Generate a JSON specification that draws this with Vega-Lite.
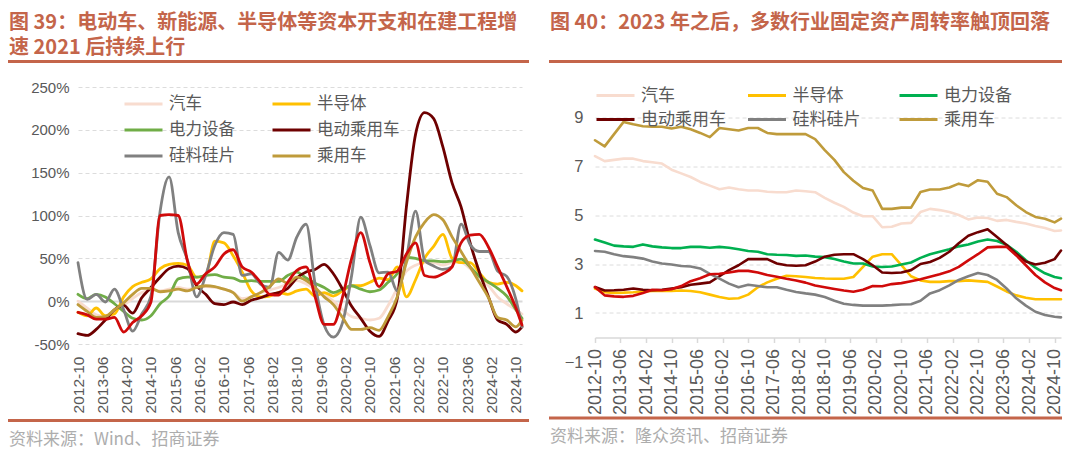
{
  "$schema": "https://vega.github.io/schema/vega-lite/v6.json",
  "background": "white",
  "padding": {"left": 8, "top": 11, "right": 0, "bottom": 0},
  "datasets": {
    "left": [
      {"d":"2012-10","汽车":0,"半导体":-13,"电力设备":8,"电动乘用车":-38,"硅料硅片":45,"乘用车":-4,"其他":-13},
      {"d":"2013-01","汽车":-8,"半导体":-17,"电力设备":3,"电动乘用车":-40,"硅料硅片":2,"乘用车":-12,"其他":-16},
      {"d":"2013-04","汽车":-16,"半导体":-8,"电力设备":8,"电动乘用车":-33,"硅料硅片":8,"乘用车":-19,"其他":-21},
      {"d":"2013-07","汽车":-18,"半导体":-17,"电力设备":5,"电动乘用车":-22,"硅料硅片":-1,"乘用车":-18,"其他":-21},
      {"d":"2013-10","汽车":-12,"半导体":-15,"电力设备":-3,"电动乘用车":-10,"硅料硅片":14,"乘用车":-10,"其他":-19},
      {"d":"2014-01","汽车":-5,"半导体":5,"电力设备":-12,"电动乘用车":-5,"硅料硅片":-10,"乘用车":-2,"其他":-36},
      {"d":"2014-04","汽车":3,"半导体":17,"电力设备":-20,"电动乘用车":-14,"硅料硅片":-35,"乘用车":8,"其他":-25},
      {"d":"2014-07","汽车":10,"半导体":22,"电力设备":-22,"电动乘用车":4,"硅料硅片":-15,"乘用车":15,"其他":-17},
      {"d":"2014-10","汽车":13,"半导体":26,"电力设备":-17,"电动乘用车":16,"硅料硅片":6,"乘用车":15,"其他":-1},
      {"d":"2015-01","汽车":12,"半导体":38,"电力设备":-3,"电动乘用车":28,"硅料硅片":105,"乘用车":11,"其他":100},
      {"d":"2015-04","汽车":14,"半导体":43,"电力设备":6,"电动乘用车":38,"硅料硅片":145,"乘用车":12,"其他":101},
      {"d":"2015-07","汽车":16,"半导体":44,"电力设备":26,"电动乘用车":41,"硅料硅片":80,"乘用车":14,"其他":100},
      {"d":"2015-10","汽车":14,"半导体":42,"电力设备":28,"电动乘用车":38,"硅料硅片":48,"乘用车":12,"其他":47},
      {"d":"2016-01","汽车":16,"半导体":28,"电力设备":28,"电动乘用车":18,"硅料硅片":5,"乘用车":16,"其他":20},
      {"d":"2016-04","汽车":17,"半导体":30,"电力设备":30,"电动乘用车":8,"硅料硅片":30,"乘用车":18,"其他":32},
      {"d":"2016-07","汽车":16,"半导体":70,"电力设备":31,"电动乘用车":-3,"硅料硅片":65,"乘用车":17,"其他":40},
      {"d":"2016-10","汽车":14,"半导体":68,"电力设备":28,"电动乘用车":-4,"硅料硅片":80,"乘用车":14,"其他":55},
      {"d":"2017-01","汽车":10,"半导体":53,"电力设备":27,"电动乘用车":-1,"硅料硅片":78,"乘用车":10,"其他":60},
      {"d":"2017-04","汽车":3,"半导体":34,"电力设备":23,"电动乘用车":-4,"硅料硅片":30,"乘用车":0,"其他":40},
      {"d":"2017-07","汽车":5,"半导体":12,"电力设备":24,"电动乘用车":1,"硅料硅片":32,"乘用车":5,"其他":34},
      {"d":"2017-10","汽车":10,"半导体":5,"电力设备":23,"电动乘用车":4,"硅料硅片":20,"乘用车":10,"其他":22},
      {"d":"2018-01","汽车":13,"半导体":6,"电力设备":23,"电动乘用车":8,"硅料硅片":16,"乘用车":17,"其他":8},
      {"d":"2018-04","汽车":16,"半导体":10,"电力设备":23,"电动乘用车":10,"硅料硅片":57,"乘用车":26,"其他":7},
      {"d":"2018-07","汽车":20,"半导体":8,"电力设备":30,"电动乘用车":15,"硅料硅片":48,"乘用车":21,"其他":22},
      {"d":"2018-10","汽车":24,"半导体":12,"电力设备":34,"电动乘用车":27,"硅料硅片":75,"乘用车":28,"其他":36},
      {"d":"2019-01","汽车":20,"半导体":14,"电力设备":27,"电动乘用车":34,"硅料硅片":90,"乘用车":24,"其他":40},
      {"d":"2019-04","汽车":14,"半导体":6,"电力设备":21,"电动乘用车":37,"硅料硅片":20,"乘用车":16,"其他":5},
      {"d":"2019-07","汽车":8,"半导体":10,"电力设备":16,"电动乘用车":43,"硅料硅片":-28,"乘用车":5,"其他":-27},
      {"d":"2019-10","汽车":0,"半导体":6,"电力设备":10,"电动乘用车":32,"硅料硅片":-42,"乘用车":-4,"其他":-27},
      {"d":"2020-01","汽车":-10,"半导体":12,"电力设备":14,"电动乘用车":14,"硅料硅片":-25,"乘用车":-19,"其他":5},
      {"d":"2020-04","汽车":-18,"半导体":18,"电力设备":18,"电动乘用车":-6,"硅料硅片":30,"乘用车":-33,"其他":50},
      {"d":"2020-07","汽车":-20,"半导体":18,"电力设备":14,"电动乘用车":-20,"硅料硅片":98,"乘用车":-33,"其他":80},
      {"d":"2020-10","汽车":-22,"半导体":22,"电力设备":11,"电动乘用车":-35,"硅料硅片":65,"乘用车":-31,"其他":45},
      {"d":"2021-01","汽车":-20,"半导体":27,"电力设备":13,"电动乘用车":-41,"硅料硅片":33,"乘用车":-34,"其他":17},
      {"d":"2021-04","汽车":-5,"半导体":25,"电力设备":22,"电动乘用车":-23,"硅料硅片":34,"乘用车":-18,"其他":32},
      {"d":"2021-07","汽车":15,"半导体":40,"电力设备":32,"电动乘用车":3,"硅料硅片":12,"乘用车":5,"其他":35},
      {"d":"2021-10","汽车":35,"半导体":5,"电力设备":51,"电动乘用车":110,"硅料硅片":50,"乘用车":45,"其他":55},
      {"d":"2022-01","汽车":42,"半导体":25,"电力设备":50,"电动乘用车":195,"硅料硅片":105,"乘用车":75,"其他":68},
      {"d":"2022-04","汽车":45,"半导体":50,"电力设备":47,"电动乘用车":220,"硅料硅片":48,"乘用车":92,"其他":30},
      {"d":"2022-07","汽车":45,"半导体":64,"电力设备":47,"电动乘用车":213,"硅料硅片":41,"乘用车":101,"其他":28},
      {"d":"2022-10","汽车":42,"半导体":78,"电力设备":46,"电动乘用车":180,"硅料硅片":37,"乘用车":95,"其他":32},
      {"d":"2023-01","汽车":45,"半导体":50,"电力设备":47,"电动乘用车":138,"硅料硅片":40,"乘用车":75,"其他":40},
      {"d":"2023-04","汽车":45,"半导体":45,"电力设备":49,"电动乘用车":110,"硅料硅片":90,"乘用车":58,"其他":68},
      {"d":"2023-07","汽车":38,"半导体":45,"电力设备":40,"电动乘用车":68,"硅料硅片":66,"乘用车":40,"其他":77},
      {"d":"2023-10","汽车":28,"半导体":33,"电力设备":29,"电动乘用车":34,"硅料硅片":58,"乘用车":22,"其他":78},
      {"d":"2024-01","汽车":18,"半导体":22,"电力设备":22,"电动乘用车":5,"硅料硅片":58,"乘用车":4,"其他":63},
      {"d":"2024-04","汽车":5,"半导体":20,"电力设备":15,"电动乘用车":-22,"硅料硅片":35,"乘用车":-19,"其他":40},
      {"d":"2024-07","汽车":-3,"半导体":22,"电力设备":6,"电动乘用车":-27,"硅料硅片":29,"乘用车":-22,"其他":17},
      {"d":"2024-10","汽车":-10,"半导体":18,"电力设备":-10,"电动乘用车":-36,"硅料硅片":2,"乘用车":-30,"其他":-8},
      {"d":"2024-12","汽车":-15,"半导体":12,"电力设备":-20,"电动乘用车":-30,"硅料硅片":-30,"乘用车":-22,"其他":-28}
    ],
    "right": [
      {"d":"2012-10","汽车":7.4,"半导体":2.0,"电力设备":4.0,"电动乘用车":2.06,"硅料硅片":3.53,"乘用车":8.05,"其他":2.06},
      {"d":"2013-01","汽车":7.2,"半导体":1.85,"电力设备":3.88,"电动乘用车":1.92,"硅料硅片":3.5,"乘用车":7.8,"其他":1.72},
      {"d":"2013-04","汽车":7.25,"半导体":1.82,"电力设备":3.75,"电动乘用车":1.93,"硅料硅片":3.4,"乘用车":8.3,"其他":1.68},
      {"d":"2013-07","汽车":7.3,"半导体":1.83,"电力设备":3.72,"电动乘用车":1.95,"硅料硅片":3.32,"乘用车":8.8,"其他":1.66},
      {"d":"2013-10","汽车":7.3,"半导体":1.85,"电力设备":3.7,"电动乘用车":2.0,"硅料硅片":3.28,"乘用车":8.7,"其他":1.7},
      {"d":"2014-01","汽车":7.2,"半导体":1.88,"电力设备":3.8,"电动乘用车":1.95,"硅料硅片":3.22,"乘用车":8.62,"其他":1.82},
      {"d":"2014-04","汽车":7.15,"半导体":1.9,"电力设备":3.72,"电动乘用车":1.93,"硅料硅片":3.1,"乘用车":8.6,"其他":1.95},
      {"d":"2014-07","汽车":7.1,"半导体":1.9,"电力设备":3.68,"电动乘用车":1.95,"硅料硅片":3.02,"乘用车":8.6,"其他":1.93},
      {"d":"2014-10","汽车":6.85,"半导体":1.9,"电力设备":3.65,"电动乘用车":2.0,"硅料硅片":2.98,"乘用车":8.53,"其他":1.97},
      {"d":"2015-01","汽车":6.7,"半导体":1.92,"电力设备":3.65,"电动乘用车":2.05,"硅料硅片":2.92,"乘用车":8.6,"其他":2.1},
      {"d":"2015-04","汽车":6.55,"半导体":1.9,"电力设备":3.7,"电动乘用车":2.15,"硅料硅片":2.9,"乘用车":8.5,"其他":2.3},
      {"d":"2015-07","汽车":6.35,"半导体":1.85,"电力设备":3.7,"电动乘用车":2.2,"硅料硅片":2.82,"乘用车":8.35,"其他":2.42},
      {"d":"2015-10","汽车":6.2,"半导体":1.75,"电力设备":3.66,"电动乘用车":2.25,"硅料硅片":2.6,"乘用车":8.18,"其他":2.58},
      {"d":"2016-01","汽车":6.05,"半导体":1.65,"电力设备":3.7,"电动乘用车":2.5,"硅料硅片":2.4,"乘用车":8.55,"其他":2.6},
      {"d":"2016-04","汽车":6.12,"半导体":1.58,"电力设备":3.66,"电动乘用车":2.75,"硅料硅片":2.2,"乘用车":8.5,"其他":2.65},
      {"d":"2016-07","汽车":6.05,"半导体":1.6,"电力设备":3.6,"电动乘用车":2.95,"硅料硅片":2.05,"乘用车":8.45,"其他":2.72},
      {"d":"2016-10","汽车":6.0,"半导体":1.75,"电力设备":3.53,"电动乘用车":3.2,"硅料硅片":2.15,"乘用车":8.55,"其他":2.72},
      {"d":"2017-01","汽车":6.0,"半导体":2.05,"电力设备":3.5,"电动乘用车":3.2,"硅料硅片":2.1,"乘用车":8.55,"其他":2.65},
      {"d":"2017-04","汽车":5.95,"半导体":2.25,"电力设备":3.4,"电动乘用车":3.2,"硅料硅片":2.05,"乘用车":8.35,"其他":2.55},
      {"d":"2017-07","汽车":5.93,"半导体":2.4,"电力设备":3.38,"电动乘用车":3.02,"硅料硅片":2.05,"乘用车":8.3,"其他":2.48},
      {"d":"2017-10","汽车":5.93,"半导体":2.52,"电力设备":3.37,"电动乘用车":2.95,"硅料硅片":1.95,"乘用车":8.3,"其他":2.4},
      {"d":"2018-01","汽车":6.0,"半导体":2.5,"电力设备":3.33,"电动乘用车":2.93,"硅料硅片":1.86,"乘用车":8.3,"其他":2.33},
      {"d":"2018-04","汽车":5.97,"半导体":2.47,"电力设备":3.35,"电动乘用车":2.95,"硅料硅片":1.8,"乘用车":8.3,"其他":2.24},
      {"d":"2018-07","汽车":5.93,"半导体":2.43,"电力设备":3.3,"电动乘用车":3.1,"硅料硅片":1.75,"乘用车":8.1,"其他":2.12},
      {"d":"2018-10","汽车":5.7,"半导体":2.41,"电力设备":3.28,"电动乘用车":3.3,"硅料硅片":1.65,"乘用车":7.65,"其他":2.05},
      {"d":"2019-01","汽车":5.5,"半导体":2.4,"电力设备":3.2,"电动乘用车":3.38,"硅料硅片":1.5,"乘用车":7.25,"其他":1.98},
      {"d":"2019-04","汽车":5.33,"半导体":2.4,"电力设备":3.1,"电动乘用车":3.4,"硅料硅片":1.38,"乘用车":6.75,"其他":1.92},
      {"d":"2019-07","汽车":5.1,"半导体":2.47,"电力设备":3.02,"电动乘用车":3.4,"硅料硅片":1.33,"乘用车":6.4,"其他":1.87},
      {"d":"2019-10","汽车":4.95,"半导体":2.88,"电力设备":3.02,"电动乘用车":3.2,"硅料硅片":1.3,"乘用车":6.1,"其他":1.95},
      {"d":"2020-01","汽车":4.95,"半导体":3.3,"电力设备":2.9,"电动乘用车":2.95,"硅料硅片":1.3,"乘用车":6.0,"其他":2.1},
      {"d":"2020-04","汽车":4.5,"半导体":3.4,"电力设备":2.88,"电动乘用车":2.65,"硅料硅片":1.3,"乘用车":5.25,"其他":2.09},
      {"d":"2020-07","汽车":4.52,"半导体":3.4,"电力设备":2.9,"电动乘用车":2.63,"硅料硅片":1.32,"乘用车":5.25,"其他":2.18},
      {"d":"2020-10","汽车":4.65,"半导体":2.95,"电力设备":2.98,"电动乘用车":2.65,"硅料硅片":1.35,"乘用车":5.3,"其他":2.22},
      {"d":"2021-01","汽车":4.68,"半导体":2.5,"电力设备":3.06,"电动乘用车":2.75,"硅料硅片":1.36,"乘用车":5.3,"其他":2.3},
      {"d":"2021-04","汽车":5.12,"半导体":2.33,"电力设备":3.25,"电动乘用车":3.0,"硅料硅片":1.5,"乘用车":5.94,"其他":2.38},
      {"d":"2021-07","汽车":5.25,"半导体":2.27,"电力设备":3.4,"电动乘用车":3.08,"硅料硅片":1.8,"乘用车":6.04,"其他":2.48},
      {"d":"2021-10","汽车":5.2,"半导体":2.27,"电力设备":3.5,"电动乘用车":3.25,"硅料硅片":1.93,"乘用车":6.04,"其他":2.58},
      {"d":"2022-01","汽车":5.12,"半导体":2.3,"电力设备":3.6,"电动乘用车":3.5,"硅料硅片":2.13,"乘用车":6.12,"其他":2.7},
      {"d":"2022-04","汽车":5.0,"半导体":2.3,"电力设备":3.72,"电动乘用车":3.85,"硅料硅片":2.35,"乘用车":6.28,"其他":2.88},
      {"d":"2022-07","汽车":4.82,"半导体":2.33,"电力设备":3.8,"电动乘用车":4.15,"硅料硅片":2.5,"乘用车":6.18,"其他":3.15},
      {"d":"2022-10","汽车":4.9,"半导体":2.3,"电力设备":3.92,"电动乘用车":4.3,"硅料硅片":2.63,"乘用车":6.42,"其他":3.4},
      {"d":"2023-01","汽车":4.88,"半导体":2.27,"电力设备":4.0,"电动乘用车":4.42,"硅料硅片":2.55,"乘用车":6.36,"其他":3.68},
      {"d":"2023-04","汽车":4.76,"半导体":2.08,"电力设备":3.94,"电动乘用车":4.1,"硅料硅片":2.35,"乘用车":5.87,"其他":3.7},
      {"d":"2023-07","汽车":4.8,"半导体":1.88,"电力设备":3.78,"电动乘用车":3.78,"硅料硅片":2.0,"乘用车":5.73,"其他":3.7},
      {"d":"2023-10","汽车":4.72,"半导体":1.72,"电力设备":3.5,"电动乘用车":3.42,"硅料硅片":1.6,"乘用车":5.4,"其他":3.35},
      {"d":"2024-01","汽车":4.65,"半导体":1.62,"电力设备":3.15,"电动乘用车":3.1,"硅料硅片":1.3,"乘用车":5.12,"其他":2.95},
      {"d":"2024-04","汽车":4.55,"半导体":1.56,"电力设备":2.85,"电动乘用车":2.98,"硅料硅片":1.05,"乘用车":4.92,"其他":2.55},
      {"d":"2024-07","汽车":4.47,"半导体":1.56,"电力设备":2.62,"电动乘用车":3.05,"硅料硅片":0.92,"乘用车":4.85,"其他":2.25},
      {"d":"2024-10","汽车":4.35,"半导体":1.56,"电力设备":2.47,"电动乘用车":3.2,"硅料硅片":0.85,"乘用车":4.7,"其他":2.02},
      {"d":"2024-12","汽车":4.37,"半导体":1.56,"电力设备":2.42,"电动乘用车":3.55,"硅料硅片":0.82,"乘用车":4.85,"其他":1.93}
    ]
  },
  "hconcat": [
    {
      "vconcat": [
        {
          "vconcat": [
            {
              "width": 519, "height": 1,
              "view": {"stroke": "#C4654A", "strokeWidth": 2, "fill": "#C4654A"},
              "data": {"values": [{}]},
              "mark": {"type": "text"},
              "encoding": {"text": {"value": ""}},
              "title": {"text": ["图 39：电动车、新能源、半导体等资本开支和在建工程增", "速 2021 后持续上行"], "anchor": "start", "frame": "group", "offset": -2, "fontSize": 20, "lineHeight": 25, "font": "Noto Sans CJK SC", "fontWeight": "bold", "color": "#C4654A"}
            },
            {
              "width": 513, "height": 257,
              "data": {"name": "left"},
              "transform": [{"fold": ["汽车", "半导体", "电力设备", "电动乘用车", "硅料硅片", "乘用车", "其他"], "as": ["series", "value"]}],
              "mark": {"type": "line", "interpolate": "monotone", "strokeWidth": 2.8, "strokeJoin": "round", "strokeCap": "round"},
              "encoding": {
                "x": {
                  "field": "d", "type": "temporal",
                  "scale": {"type": "utc", "range": [69, 513], "domain": [{"year": 2012, "month": 10, "date": 1, "utc": true}, {"year": 2024, "month": 12, "date": 1, "utc": true}]},
                  "axis": {
                    "title": null, "format": "%Y-%m", "labelAngle": -90, "labelFontSize": 15.5, "labelPadding": 12, "labelOverlap": false, "labelFlush": false,
                    "grid": false, "domain": false, "ticks": false,
                    "values": [
                      {"year": 2012, "month": 10, "utc": true}, {"year": 2013, "month": 6, "utc": true}, {"year": 2014, "month": 2, "utc": true},
                      {"year": 2014, "month": 10, "utc": true}, {"year": 2015, "month": 6, "utc": true}, {"year": 2016, "month": 2, "utc": true},
                      {"year": 2016, "month": 10, "utc": true}, {"year": 2017, "month": 6, "utc": true}, {"year": 2018, "month": 2, "utc": true},
                      {"year": 2018, "month": 10, "utc": true}, {"year": 2019, "month": 6, "utc": true}, {"year": 2020, "month": 2, "utc": true},
                      {"year": 2020, "month": 10, "utc": true}, {"year": 2021, "month": 6, "utc": true}, {"year": 2022, "month": 2, "utc": true},
                      {"year": 2022, "month": 10, "utc": true}, {"year": 2023, "month": 6, "utc": true}, {"year": 2024, "month": 2, "utc": true},
                      {"year": 2024, "month": 10, "utc": true}
                    ]
                  }
                },
                "y": {
                  "field": "value", "type": "quantitative",
                  "scale": {"domain": [-50, 250], "nice": false, "zero": false},
                  "axis": {
                    "title": null, "values": [-50, 0, 50, 100, 150, 200, 250], "labelExpr": "datum.value + '%'",
                    "labelFontSize": 15, "labelPadding": -60, "domain": false, "ticks": false,
                    "grid": true,
                    "gridDash": {"condition": {"test": "datum.value === 0", "value": []}, "value": [4, 3]},
                    "gridWidth": {"condition": {"test": "datum.value === 0", "value": 2}, "value": 1},
                    "gridColor": {"condition": {"test": "datum.value === 0", "value": "#D9D9D9"}, "value": "#DCDCDC"}
                  }
                },
                "color": {
                  "field": "series", "type": "nominal",
                  "scale": {"domain": ["汽车", "半导体", "电力设备", "电动乘用车", "硅料硅片", "乘用车", "其他"], "range": ["#F8DCCF", "#FFC000", "#70AD47", "#6E0000", "#808080", "#BF9B3B", "#D00A0A"]},
                  "legend": {
                    "values": ["汽车", "电力设备", "硅料硅片", "半导体", "电动乘用车", "乘用车"],
                    "orient": "none", "legendX": 114, "legendY": 33, "columns": 2, "title": null, "padding": 0,
                    "symbolType": "stroke", "symbolSize": 1444, "symbolStrokeWidth": 3, "clipHeight": 20,
                    "labelFontSize": 16.5, "labelFont": "Noto Sans CJK SC", "labelColor": "#595959", "labelOffset": 5,
                    "columnPadding": 19, "rowPadding": 6, "gridAlign": "all", "labelLimit": 200
                  }
                }
              }
            }
          ],
          "spacing": 12
        },
        {
          "width": 519, "height": 1,
          "view": {"stroke": "#C4654A", "strokeWidth": 2, "fill": "#C4654A"},
          "data": {"values": [{}]},
          "mark": {"type": "text"},
          "encoding": {"text": {"value": ""}},
          "title": {"text": "资料来源：Wind、招商证券", "orient": "bottom", "anchor": "start", "frame": "group", "offset": 6, "fontSize": 17, "font": "Noto Sans CJK SC", "fontWeight": "normal", "color": "#ADADAD"}
        }
      ],
      "spacing": 0
    },
    {
      "vconcat": [
        {
          "vconcat": [
            {
              "width": 511, "height": 1,
              "view": {"stroke": "#C4654A", "strokeWidth": 2, "fill": "#C4654A"},
              "data": {"values": [{}]},
              "mark": {"type": "text"},
              "encoding": {"text": {"value": ""}},
              "title": {"text": "图 40：2023 年之后，多数行业固定资产周转率触顶回落", "anchor": "start", "frame": "group", "offset": 23, "fontSize": 20, "font": "Noto Sans CJK SC", "fontWeight": "bold", "color": "#C4654A"}
            },
            {
              "width": 511, "height": 269.5,
              "data": {"name": "right"},
              "transform": [{"fold": ["汽车", "半导体", "电力设备", "电动乘用车", "硅料硅片", "乘用车", "其他"], "as": ["series", "value"]}],
              "mark": {"type": "line", "strokeWidth": 2.6, "strokeJoin": "round", "strokeCap": "round"},
              "encoding": {
                "x": {
                  "field": "d", "type": "temporal",
                  "scale": {"type": "utc", "range": [45, 511], "domain": [{"year": 2012, "month": 10, "date": 1, "utc": true}, {"year": 2024, "month": 12, "date": 1, "utc": true}]},
                  "axis": {
                    "title": null, "format": "%Y-%m", "labelAngle": -90, "labelFontSize": 18, "labelPadding": 6, "labelOverlap": false, "labelFlush": false,
                    "offset": -24.5, "grid": false,
                    "domain": true, "domainColor": "#D9D9D9", "domainWidth": 1.5,
                    "ticks": true, "tickColor": "#D9D9D9", "tickSize": 5, "tickWidth": 1.5,
                    "values": [
                      {"year": 2012, "month": 10, "utc": true}, {"year": 2013, "month": 6, "utc": true}, {"year": 2014, "month": 2, "utc": true},
                      {"year": 2014, "month": 10, "utc": true}, {"year": 2015, "month": 6, "utc": true}, {"year": 2016, "month": 2, "utc": true},
                      {"year": 2016, "month": 10, "utc": true}, {"year": 2017, "month": 6, "utc": true}, {"year": 2018, "month": 2, "utc": true},
                      {"year": 2018, "month": 10, "utc": true}, {"year": 2019, "month": 6, "utc": true}, {"year": 2020, "month": 2, "utc": true},
                      {"year": 2020, "month": 10, "utc": true}, {"year": 2021, "month": 6, "utc": true}, {"year": 2022, "month": 2, "utc": true},
                      {"year": 2022, "month": 10, "utc": true}, {"year": 2023, "month": 6, "utc": true}, {"year": 2024, "month": 2, "utc": true},
                      {"year": 2024, "month": 10, "utc": true}
                    ]
                  }
                },
                "y": {
                  "field": "value", "type": "quantitative",
                  "scale": {"domain": [-1, 10], "nice": false, "zero": false},
                  "axis": {
                    "title": null, "values": [-1, 1, 3, 5, 7, 9],
                    "labelFontSize": 16.5, "labelPadding": -33, "domain": false, "ticks": false,
                    "grid": true, "gridDash": [4, 3], "gridColor": "#DCDCDC", "gridWidth": 1,
                    "gridOpacity": {"condition": {"test": "datum.value === -1", "value": 0}, "value": 1}
                  }
                },
                "color": {
                  "field": "series", "type": "nominal",
                  "scale": {"domain": ["汽车", "半导体", "电力设备", "电动乘用车", "硅料硅片", "乘用车", "其他"], "range": ["#F8DCCF", "#FFC000", "#00B050", "#6E0000", "#808080", "#BF9B3B", "#D00A0A"]},
                  "legend": {
                    "values": ["汽车", "电动乘用车", "半导体", "硅料硅片", "电力设备", "乘用车"],
                    "orient": "none", "legendX": 45, "legendY": 25.5, "columns": 3, "title": null, "padding": 0,
                    "symbolType": "stroke", "symbolSize": 1444, "symbolStrokeWidth": 3, "clipHeight": 18,
                    "labelFontSize": 17, "labelFont": "Noto Sans CJK SC", "labelColor": "#595959", "labelOffset": 5,
                    "columnPadding": 20.5, "rowPadding": 6, "gridAlign": "all", "labelLimit": 200
                  }
                }
              }
            }
          ],
          "spacing": 24.5
        },
        {
          "width": 511, "height": 1,
          "view": {"stroke": "#C4654A", "strokeWidth": 2, "fill": "#C4654A"},
          "data": {"values": [{}]},
          "mark": {"type": "text"},
          "encoding": {"text": {"value": ""}},
          "title": {"text": "资料来源：隆众资讯、招商证券", "orient": "bottom", "anchor": "start", "frame": "group", "offset": 6, "fontSize": 17, "font": "Noto Sans CJK SC", "fontWeight": "normal", "color": "#ADADAD"}
        }
      ],
      "spacing": -4.5
    }
  ],
  "spacing": 20,
  "resolve": {
    "scale": {"color": "independent", "x": "independent", "y": "independent"},
    "legend": {"color": "independent"}
  },
  "config": {
    "view": {"stroke": null},
    "font": "Liberation Sans",
    "axis": {"labelFont": "Liberation Sans", "labelColor": "#595959"}
  }
}
